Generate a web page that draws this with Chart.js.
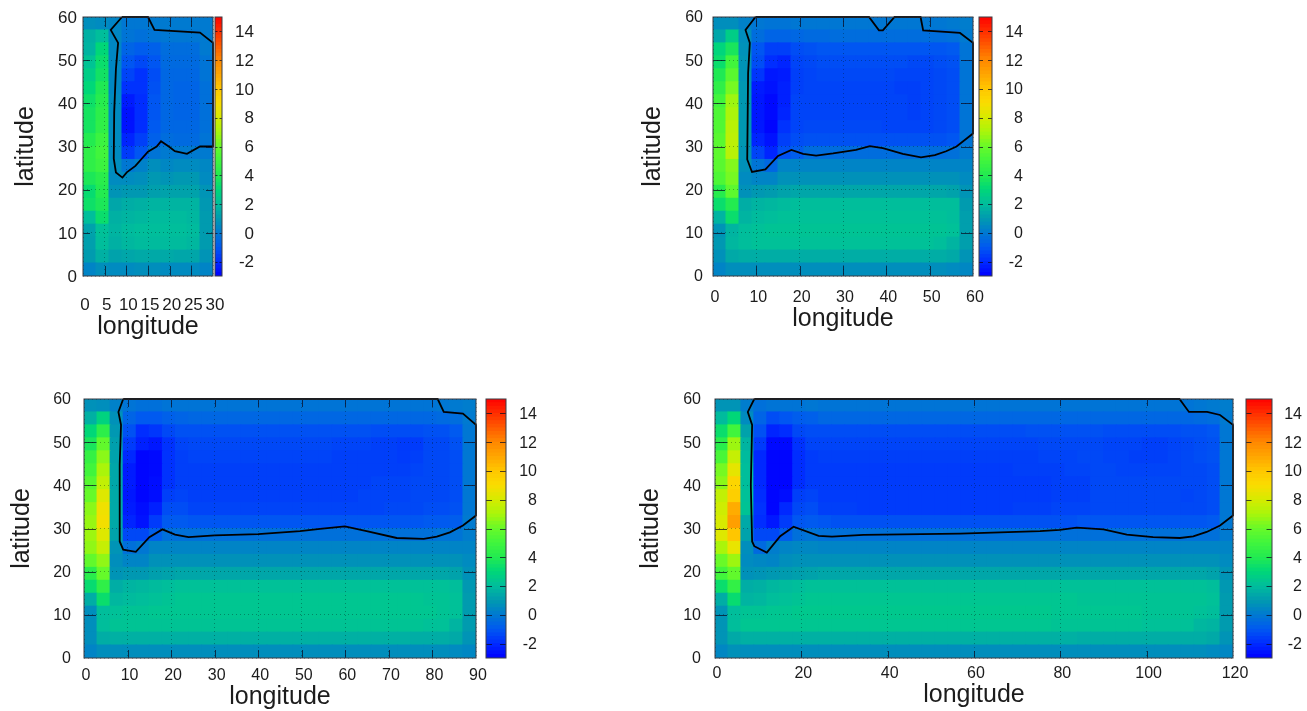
<!DOCTYPE html>
<html><head><meta charset="utf-8">
<style>html,body{margin:0;padding:0;background:#fff;width:1307px;height:711px;overflow:hidden}canvas{position:absolute;display:block;filter:blur(.4px)}</style>
<script src="https://cdn.jsdelivr.net/npm/chart.js@4"></script>
</head><body>
<script>
const latitudeTicks=[0,10,20,30,40,50,60];
const colorbarTicks=[-2,0,2,4,6,8,10,12,14];
const colorStops=[[-3,0,0,255],[-2,0,45,255],[-1,0,90,240],[0,0,122,208],[1,0,155,175],[2,0,190,155],[3,0,215,120],[4,35,235,80],[5,65,245,60],[6,105,250,40],[7,170,245,10],[8,215,235,0],[9,250,220,0],[10,255,198,0],[11,255,165,0],[12,255,135,0],[13,255,90,0],[14,255,45,0],[15,255,0,0]];
const lon30Ticks=[0,5,10,15,20,25,30];
const lon60Ticks=[0,10,20,30,40,50,60];
const lon90Ticks=[0,10,20,30,40,50,60,70,80,90];
const lon120Ticks=[0,20,40,60,80,100,120];

const values30=[
[.6,.5,.3,-.1,-.1,0,0,0,0,0],
[1.6,2,.4,-.2,-.3,-.2,-.1,-.1,-.1,0],
[1.7,3,.4,-.7,-.9,-.8,-.4,-.4,-.4,0],
[2.2,3.3,.4,-1.1,-1.4,-1.1,-.5,-.5,-.5,-.2],
[2.6,3.5,.4,-1.5,-1.9,-1.3,-.6,-.6,-.6,-.2],
[3,3.9,.4,-1.9,-1.9,-1.2,-.6,-.7,-.7,-.3],
[3.4,4.1,.5,-2.4,-2,-1.1,-.6,-.7,-.7,-.3],
[3.6,4.3,.5,-2.6,-2,-1.1,-.6,-.7,-.7,-.3],
[3.6,4.4,.5,-2.6,-2,-1,-.6,-.6,-.6,-.3],
[4,4.8,.5,-2.2,-1.6,-.8,-.4,-.5,-.5,-.2],
[4.4,5,.5,-1.7,-1.1,-.2,0,0,0,0],
[4.4,4.8,.6,-.1,.2,.6,.4,.5,.5,.4],
[3.8,4.2,.5,.5,.6,.9,.8,.9,.9,.5],
[3.2,4,.8,.9,.9,1.1,1.2,1.2,1.2,.8],
[3.4,3.8,1.3,1.5,1.6,1.7,1.7,1.7,1.7,.9],
[2,3.3,1.6,1.7,1.8,1.9,1.9,1.9,1.8,1],
[1.2,2.1,1.7,1.9,2,2,2,2,1.9,1],
[1.1,2,1.6,1.8,1.9,1.9,1.9,1.9,1.8,1],
[1,1.6,1.2,1.3,1.4,1.4,1.4,1.3,1.3,.8],
[.3,.6,.5,.5,.6,.6,.5,.5,.5,.3]];

const values60=[
[.6,.6,.2,-.1,-.2,-.2,-.1,-.1,-.1,-.1,-.1,-.1,-.1,-.1,-.1,-.1,-.1,-.1,0,.1],
[1.3,2.6,.6,-.4,-.7,-.7,-.6,-.5,-.5,-.4,-.4,-.4,-.4,-.4,-.4,-.4,-.4,-.4,-.3,0],
[2.9,3.7,.7,-1.1,-1.6,-1.6,-1.3,-1.2,-1.1,-1.1,-1.1,-1.1,-1.1,-1.1,-1.1,-1.1,-1.1,-1.1,-1,-.2],
[3.3,5,.8,-1.3,-2,-2.2,-1.5,-1.4,-1.3,-1.3,-1.3,-1.3,-1.3,-1.3,-1.3,-1.4,-1.4,-1.3,-1.2,-.2],
[3.9,5.6,.8,-1.8,-2.5,-2.4,-1.6,-1.5,-1.4,-1.4,-1.4,-1.4,-1.4,-1.4,-1.5,-1.5,-1.5,-1.4,-1.3,-.2],
[4.4,6.2,.9,-2.4,-2.6,-2.3,-1.6,-1.5,-1.5,-1.5,-1.5,-1.5,-1.5,-1.5,-1.6,-1.6,-1.5,-1.4,-1.3,-.2],
[5,6.8,.9,-2.5,-2.8,-2.3,-1.5,-1.5,-1.5,-1.5,-1.5,-1.5,-1.5,-1.5,-1.5,-1.6,-1.5,-1.4,-1.3,-.2],
[5.3,7,.9,-2.5,-2.8,-2.2,-1.5,-1.5,-1.5,-1.5,-1.5,-1.5,-1.5,-1.5,-1.5,-1.6,-1.5,-1.4,-1.3,-.2],
[5.4,7.3,.9,-2.5,-2.9,-1.9,-1.5,-1.4,-1.4,-1.4,-1.4,-1.4,-1.4,-1.5,-1.5,-1.5,-1.5,-1.4,-1.3,-.2],
[5.6,7.4,.9,-2.2,-2.6,-1.6,-1.3,-1.2,-1.2,-1.2,-1.2,-1.2,-1.2,-1.2,-1.2,-1.2,-1.2,-1.2,-1.1,-.2],
[5.7,7.3,.8,-1.5,-2.2,-1.2,-.9,-.4,-.4,-.4,-.4,-.4,-.4,-.4,-.4,-.4,-.4,-.4,-.3,0],
[5.6,6.4,.7,-.2,-.6,.3,.3,.3,.3,.3,.3,.3,.3,.3,.3,.3,.3,.3,.3,.3],
[5.3,6.2,.5,.3,.3,.7,.7,.7,.7,.7,.7,.7,.7,.7,.7,.7,.7,.7,.7,.5],
[4.1,5.7,.7,.9,1,1.2,1.3,1.3,1.3,1.3,1.3,1.3,1.3,1.3,1.3,1.3,1.3,1.3,1.2,.8],
[3.3,4,1.5,1.7,1.8,1.9,2,2,2,2,2,2,2,2,2,2,2,2,2,1],
[1.7,3.3,1.7,1.9,2,2.1,2.1,2.1,2.1,2.1,2.1,2.1,2.1,2.1,2.1,2.1,2.1,2.1,2,1.1],
[.8,1.7,2,2.1,2.2,2.2,2.2,2.2,2.2,2.2,2.2,2.2,2.2,2.2,2.2,2.2,2.2,2.2,2.1,1.1],
[.9,1.8,2,2.1,2.1,2.1,2.1,2.1,2.1,2.1,2.1,2.1,2.1,2.1,2.1,2.1,2.1,2,1.7,1.1],
[.7,1.4,1.5,1.5,1.5,1.5,1.5,1.5,1.5,1.5,1.5,1.5,1.5,1.5,1.5,1.5,1.5,1.5,1.4,.8],
[.3,.6,.6,.6,.6,.6,.6,.6,.6,.6,.6,.6,.6,.6,.6,.6,.6,.6,.5,.4]];

const values90=[
[.7,.6,.2,-.2,-.3,-.3,-.2,-.2,-.2,-.2,-.2,-.2,-.2,-.2,-.2,-.2,-.2,-.2,-.2,-.2,-.2,-.2,-.2,-.2,-.2,-.2,-.2,-.1,0,.1],
[1.6,2.8,.7,-.7,-1,-1,-.8,-.7,-.6,-.6,-.6,-.6,-.6,-.6,-.6,-.6,-.6,-.6,-.6,-.6,-.6,-.6,-.6,-.6,-.6,-.6,-.6,-.5,-.4,0],
[3,4.3,.9,-1.2,-2,-1.8,-1.4,-1.2,-1.2,-1.2,-1.2,-1.2,-1.2,-1.2,-1.2,-1.2,-1.2,-1.2,-1.2,-1.2,-1.2,-1.2,-1.3,-1.3,-1.3,-1.3,-1.2,-1.2,-1,-.1],
[3.7,5.8,1.1,-1.7,-2.3,-2.5,-1.9,-1.5,-1.4,-1.4,-1.4,-1.4,-1.4,-1.4,-1.4,-1.4,-1.4,-1.4,-1.4,-1.5,-1.5,-1.5,-1.6,-1.6,-1.7,-1.7,-1.4,-1.4,-1.2,-.1],
[4.6,6.5,1.2,-2.1,-2.9,-2.8,-1.9,-1.6,-1.5,-1.5,-1.5,-1.5,-1.5,-1.5,-1.5,-1.5,-1.5,-1.5,-1.5,-1.6,-1.6,-1.6,-1.6,-1.6,-1.7,-1.6,-1.4,-1.4,-1.3,-.1],
[5,7,1.3,-2.4,-2.9,-2.8,-1.9,-1.6,-1.6,-1.6,-1.6,-1.6,-1.6,-1.6,-1.6,-1.6,-1.6,-1.6,-1.6,-1.6,-1.6,-1.6,-1.6,-1.6,-1.6,-1.5,-1.4,-1.4,-1.3,-.1],
[5.5,7.5,1.3,-2.4,-2.9,-2.7,-1.9,-1.6,-1.6,-1.6,-1.6,-1.6,-1.6,-1.6,-1.6,-1.6,-1.6,-1.6,-1.6,-1.6,-1.6,-1.6,-1.5,-1.5,-1.5,-1.4,-1.4,-1.4,-1.3,-.1],
[5.9,8.2,1.4,-2.5,-2.9,-2.7,-1.6,-1.5,-1.6,-1.6,-1.6,-1.6,-1.6,-1.6,-1.6,-1.6,-1.6,-1.6,-1.6,-1.6,-1.6,-1.5,-1.5,-1.5,-1.5,-1.4,-1.4,-1.4,-1.3,-.1],
[6.5,8.7,1.4,-2.4,-2.7,-2.3,-1.3,-1.3,-1.5,-1.5,-1.5,-1.5,-1.5,-1.5,-1.5,-1.5,-1.5,-1.5,-1.5,-1.5,-1.5,-1.5,-1.5,-1.4,-1.4,-1.4,-1.3,-1.3,-1.2,-.1],
[6.7,8.8,1.4,-2.2,-2.6,-1.7,-1,-1,-1.1,-1.1,-1.1,-1.1,-1.1,-1.1,-1.1,-1.1,-1.1,-1.1,-1.1,-1.1,-1.1,-1.1,-1.1,-1.1,-1.1,-1.1,-1,-1,-.9,0],
[6.8,8.2,1.2,-1.4,-1.4,-.8,-.3,-.3,-.3,-.3,-.3,-.3,-.3,-.3,-.3,-.3,-.3,-.3,-.3,-.3,-.3,-.3,-.3,-.3,-.3,-.3,-.3,-.2,-.2,.1],
[6.6,7.6,.8,-.3,-.1,.3,.3,.3,.3,.3,.3,.3,.3,.3,.3,.3,.3,.3,.3,.3,.3,.3,.3,.3,.3,.3,.3,.3,.3,.3],
[5.8,6.6,.6,.3,.3,.7,.7,.7,.7,.7,.7,.7,.7,.7,.7,.7,.7,.7,.7,.7,.7,.7,.7,.7,.7,.7,.7,.7,.7,.5],
[4.2,5.9,.8,.9,.9,1.1,1.2,1.3,1.3,1.3,1.3,1.3,1.3,1.3,1.3,1.3,1.3,1.3,1.3,1.3,1.3,1.3,1.3,1.3,1.3,1.3,1.3,1.3,1.2,.7],
[3.2,4.4,1.5,1.7,1.8,1.9,2,2.1,2.1,2.1,2.1,2.1,2.1,2.1,2.1,2.1,2.1,2.1,2.1,2.1,2.1,2.1,2.1,2.1,2.1,2.1,2.1,2.1,2,.9],
[1.5,3.3,1.8,1.9,2,2.1,2.2,2.3,2.3,2.3,2.3,2.3,2.3,2.3,2.3,2.3,2.3,2.3,2.3,2.3,2.3,2.3,2.3,2.3,2.3,2.3,2.2,2.2,2.1,1],
[.6,2,2.1,2.2,2.2,2.3,2.3,2.3,2.3,2.3,2.3,2.3,2.3,2.3,2.3,2.3,2.3,2.3,2.3,2.3,2.3,2.3,2.3,2.3,2.3,2.3,2.3,2.2,2.1,1],
[.6,2,2.2,2.2,2.2,2.2,2.2,2.2,2.2,2.2,2.2,2.2,2.2,2.2,2.2,2.2,2.2,2.2,2.2,2.2,2.2,2.2,2.2,2.2,2.2,2.2,2.1,2.1,1.7,1],
[.6,1.5,1.6,1.6,1.6,1.6,1.6,1.6,1.6,1.6,1.6,1.6,1.6,1.6,1.6,1.6,1.6,1.6,1.6,1.6,1.6,1.6,1.6,1.6,1.6,1.5,1.5,1.5,1.4,.8],
[.3,.6,.6,.6,.6,.6,.6,.6,.6,.6,.6,.6,.6,.6,.6,.6,.6,.6,.6,.6,.6,.6,.6,.6,.6,.6,.6,.6,.5,.4]];

const values120=[
[.8,.8,.1,-.3,-.2,-.2,-.2,-.1,-.2,-.2,-.2,-.2,-.2,-.2,-.2,-.2,-.2,-.2,-.2,-.2,-.2,-.2,-.2,-.2,-.2,-.2,-.2,-.2,-.2,-.2,-.2,-.2,-.2,-.2,-.2,-.2,-.2,-.1,0,.1],
[1.9,3,.5,-.7,-1.3,-1.1,-.9,-.8,-.6,-.6,-.6,-.6,-.6,-.6,-.6,-.6,-.6,-.6,-.6,-.6,-.6,-.6,-.6,-.6,-.6,-.6,-.6,-.6,-.6,-.6,-.6,-.6,-.6,-.6,-.6,-.6,-.6,-.5,-.4,0],
[3.3,5,1.2,-1.2,-2.2,-2,-1.4,-1.3,-1.3,-1.3,-1.3,-1.3,-1.3,-1.3,-1.3,-1.3,-1.3,-1.3,-1.3,-1.3,-1.3,-1.3,-1.3,-1.3,-1.2,-1.2,-1.2,-1.2,-1.2,-1.2,-1.3,-1.3,-1.3,-1.3,-1.3,-1.3,-1.2,-1.2,-1.1,-.1],
[4.2,6.8,1.7,-1.7,-2.8,-2.8,-1.9,-1.5,-1.5,-1.5,-1.5,-1.5,-1.5,-1.5,-1.5,-1.5,-1.5,-1.5,-1.5,-1.5,-1.5,-1.5,-1.5,-1.5,-1.5,-1.4,-1.4,-1.4,-1.4,-1.4,-1.5,-1.5,-1.5,-1.6,-1.6,-1.5,-1.4,-1.3,-1.2,-.1],
[5.2,7.6,1.9,-2.1,-2.9,-2.9,-2,-1.7,-1.6,-1.6,-1.6,-1.6,-1.6,-1.6,-1.6,-1.6,-1.6,-1.6,-1.6,-1.6,-1.6,-1.6,-1.6,-1.6,-1.6,-1.5,-1.5,-1.5,-1.4,-1.4,-1.5,-1.5,-1.6,-1.6,-1.6,-1.5,-1.4,-1.3,-1.2,-.1],
[6.2,8.4,2,-2.1,-2.9,-2.9,-2,-1.7,-1.7,-1.7,-1.7,-1.7,-1.7,-1.7,-1.7,-1.7,-1.7,-1.7,-1.7,-1.7,-1.7,-1.7,-1.7,-1.6,-1.6,-1.6,-1.6,-1.5,-1.5,-1.4,-1.4,-1.5,-1.5,-1.5,-1.5,-1.5,-1.4,-1.4,-1.3,-.1],
[6.5,9.3,2,-2.1,-2.9,-2.9,-2,-1.7,-1.7,-1.7,-1.7,-1.7,-1.7,-1.7,-1.7,-1.7,-1.7,-1.7,-1.7,-1.7,-1.7,-1.7,-1.7,-1.7,-1.7,-1.7,-1.6,-1.6,-1.6,-1.4,-1.4,-1.4,-1.4,-1.4,-1.4,-1.4,-1.4,-1.4,-1.3,-.1],
[7.5,9.6,2.1,-2,-2.9,-2.7,-1.6,-1.5,-1.7,-1.7,-1.7,-1.7,-1.7,-1.7,-1.7,-1.7,-1.7,-1.7,-1.7,-1.7,-1.7,-1.7,-1.7,-1.7,-1.7,-1.7,-1.6,-1.6,-1.6,-1.4,-1.4,-1.4,-1.4,-1.4,-1.4,-1.4,-1.5,-1.4,-1.3,-.1],
[7.8,10.8,2.2,-1.9,-2.9,-2.1,-1.4,-1.3,-1.6,-1.6,-1.6,-1.7,-1.7,-1.7,-1.7,-1.7,-1.7,-1.7,-1.7,-1.7,-1.7,-1.7,-1.7,-1.6,-1.6,-1.6,-1.5,-1.5,-1.5,-1.4,-1.4,-1.4,-1.4,-1.4,-1.4,-1.4,-1.4,-1.4,-1.3,-.1],
[8,11.2,1.4,-2,-2.5,-1.7,-1.1,-1,-1.1,-1.2,-1.2,-1.2,-1.2,-1.2,-1.2,-1.2,-1.2,-1.2,-1.2,-1.2,-1.2,-1.2,-1.2,-1.2,-1.2,-1.2,-1.2,-1.2,-1.1,-1.1,-1.1,-1.1,-1.1,-1.1,-1.1,-1.1,-1.1,-1.1,-1,-.1],
[8.2,10,1.2,-1.4,-1.4,-.9,-.3,-.2,-.3,-.3,-.3,-.3,-.3,-.3,-.3,-.3,-.3,-.3,-.3,-.3,-.3,-.3,-.3,-.3,-.3,-.3,-.3,-.3,-.3,-.3,-.3,-.3,-.3,-.3,-.3,-.3,-.3,-.3,-.3,0],
[7,8.5,.6,-.5,.1,.3,.4,.4,.3,.3,.3,.3,.3,.3,.3,.3,.3,.3,.3,.3,.3,.3,.3,.3,.3,.3,.3,.3,.3,.3,.3,.3,.3,.3,.3,.3,.3,.3,.3,.3],
[6,6.8,.5,.4,.3,.6,.7,.7,.7,.7,.7,.7,.7,.7,.7,.7,.7,.7,.7,.7,.7,.7,.7,.7,.7,.7,.7,.7,.7,.7,.7,.7,.7,.7,.7,.7,.7,.7,.7,.5],
[5,5.8,.7,.8,.9,1,1.1,1.2,1.3,1.3,1.3,1.3,1.3,1.3,1.3,1.3,1.3,1.3,1.3,1.3,1.3,1.3,1.3,1.3,1.3,1.3,1.3,1.3,1.3,1.3,1.3,1.3,1.3,1.3,1.3,1.3,1.3,1.3,1.2,.8],
[3.3,4.5,1.5,1.6,1.8,1.9,2,2.1,2.1,2.1,2.1,2.1,2.1,2.1,2.1,2.1,2.1,2.1,2.1,2.1,2.1,2.1,2.1,2.1,2.1,2.1,2.1,2.1,2.1,2.1,2.1,2.1,2.1,2.1,2.1,2.1,2.1,2.1,2,.9],
[1.5,3.2,1.7,1.8,2,2.1,2.2,2.3,2.3,2.3,2.3,2.3,2.3,2.3,2.3,2.3,2.3,2.3,2.3,2.3,2.3,2.3,2.3,2.3,2.3,2.3,2.3,2.3,2.2,2.2,2.2,2.2,2.2,2.2,2.2,2.2,2.2,2.2,2.1,1],
[.8,2,2.2,2.2,2.3,2.3,2.4,2.4,2.4,2.4,2.4,2.4,2.4,2.4,2.4,2.4,2.4,2.4,2.4,2.4,2.4,2.4,2.4,2.4,2.4,2.4,2.3,2.3,2.3,2.3,2.3,2.3,2.3,2.2,2.2,2.2,2.2,2.1,2,1],
[.8,2,2.3,2.3,2.3,2.3,2.3,2.3,2.3,2.3,2.3,2.3,2.3,2.3,2.3,2.3,2.3,2.3,2.3,2.3,2.3,2.3,2.3,2.3,2.3,2.3,2.2,2.2,2.2,2.2,2.2,2.2,2.2,2.1,2.1,2.1,2.1,1.8,1.7,1],
[.8,1.4,1.6,1.6,1.6,1.6,1.6,1.6,1.6,1.6,1.6,1.6,1.6,1.6,1.6,1.6,1.6,1.6,1.6,1.6,1.6,1.6,1.6,1.6,1.6,1.6,1.6,1.6,1.5,1.5,1.5,1.5,1.5,1.5,1.5,1.5,1.5,1.5,1.4,.8],
[.4,.7,.6,.6,.6,.6,.6,.6,.6,.6,.6,.6,.6,.6,.6,.6,.6,.6,.6,.6,.6,.6,.6,.6,.6,.6,.6,.6,.6,.6,.6,.6,.6,.6,.6,.6,.6,.6,.5,.4]];

const contour30=[[9,60],[6.4,57],[8.1,54],[7.6,48],[7.2,38],[7.1,27.2],[7.6,24],[9.1,22.8],[10.1,24],[12.1,25.5],[15,28.8],[17,30],[18,31.2],[19.8,30],[21.2,28.9],[24,28.3],[27,30],[30,30],[30,54],[27,56.4],[16.5,57],[15,60],[9,60]];
const contour60=[[9.8,60],[7.5,57],[8.5,54],[8.1,47],[7.9,27],[9,24.1],[12.1,24.7],[15,27.8],[18.1,29.2],[20.8,28.3],[23.8,27.9],[27.7,28.4],[33,29.2],[36.2,30.1],[39.2,29.6],[43.8,28.3],[48,27.5],[51.2,28],[53.8,28.9],[56.2,30],[60,33],[60,54],[57,56.3],[48.5,56.9],[47.9,60],[41.9,60],[39.2,56.9],[38.3,56.9],[36,60],[9.8,60]];
const contour90=[[9,60],[7.9,57],[8.5,54],[8.2,44.8],[8.2,27],[9,25.1],[11.9,24.6],[15,28],[18,29.8],[20.9,28.6],[24,28],[30,28.4],[40,28.7],[49.6,29.4],[54.2,29.9],[59.9,30.5],[64.9,29.4],[71.8,27.8],[78,27.6],[81,28.1],[84,29.1],[87,30.7],[90,33],[90,54],[87,56.6],[82.6,57],[81.2,60],[9,60]];
const contour120=[[9.1,60],[7.6,57],[8.6,54],[8.3,40],[8.6,27],[9.1,25.9],[12,24.4],[15.1,28.2],[18.2,30.4],[24,28.3],[27.1,28.1],[34.4,28.5],[56.8,28.8],[75.3,29.4],[79.9,29.7],[83.8,30.2],[90,29.8],[95.4,28.6],[101.5,28],[107.7,27.8],[110.8,28.2],[113.9,29.2],[117,30.7],[120,33],[120,54],[117,56.3],[114,57],[109.8,57],[107.6,60],[9.1,60]];

const FONT='"Liberation Sans", Arial, sans-serif', INK='#1c1c1c', TICKINK='rgba(10,10,30,.72)', GRIDINK='rgba(0,20,20,.35)';
function colorFor(v){
  for(let i=1;i<colorStops.length;i++){
    const a=colorStops[i-1],b=colorStops[i];
    if(v<=b[0]){const t=Math.max(0,(v-a[0])/(b[0]-a[0]));
      return `rgb(${Math.round(a[1]+t*(b[1]-a[1]))},${Math.round(a[2]+t*(b[2]-a[2]))},${Math.round(a[3]+t*(b[3]-a[3]))})`;}
  }
  return 'rgb(255,0,0)';
}
function addCanvas(l,t,w,h){
  const c=document.createElement('canvas');
  c.width=w;c.height=h;c.style.cssText=`left:${l}px;top:${t}px;width:${w}px;height:${h}px`;
  document.body.appendChild(c);return c.getContext('2d');
}
function noOverhang(s){s.paddingLeft=s.paddingRight=s.paddingTop=s.paddingBottom=0;}
const frameAndTicks={id:'frameAndTicks',afterDraw(chart,args,o){
  const ctx=chart.ctx,a=chart.chartArea,s=chart.scales;
  ctx.save();ctx.lineWidth=1;ctx.strokeStyle=TICKINK;ctx.beginPath();
  if(s.x&&o.xLen)s.x.ticks.forEach(t=>{const p=Math.round(s.x.getPixelForValue(t.value))+.5;
    if(p>a.left+1&&p<a.right-1){ctx.moveTo(p,a.bottom);ctx.lineTo(p,a.bottom-o.xLen);ctx.moveTo(p,a.top);ctx.lineTo(p,a.top+o.xLen);}});
  s.y.ticks.forEach(t=>{const p=Math.round(s.y.getPixelForValue(t.value))+.5;
    if(p>a.top+1&&p<a.bottom-1){ctx.moveTo(a.left,p);ctx.lineTo(a.left+o.yLen,p);ctx.moveTo(a.right,p);ctx.lineTo(a.right-o.yLen,p);}});
  ctx.stroke();
  ctx.strokeStyle='#3a3d44';ctx.strokeRect(a.left,a.top,a.right-a.left,a.bottom-a.top);
  ctx.restore();
}};

const layout=[
 {values:values30,contour:contour30,ticks:lon30Ticks,max:30,L:83,T:17,R:213,B:276,cbL:215,cbR:222,yPad:6,xPad:19,xLen:10,yLen:7,cbLen:2.5,cbExtra:32,yTitle:26.5,xTitle:327,font:17},
 {values:values60,contour:contour60,ticks:lon60Ticks,max:60,L:713,T:17,R:973,B:276,cbL:979,cbR:992,yPad:10,xPad:12,xLen:10,yLen:12,cbLen:4,cbExtra:31,yTitle:653.5,xTitle:319,font:16},
 {values:values90,contour:contour90,ticks:lon90Ticks,max:90,L:84,T:399,R:476,B:658,cbL:486,cbR:506,yPad:13,xPad:8,xLen:8,yLen:12,cbLen:6,cbExtra:31,yTitle:22.5,xTitle:697,font:16},
 {values:values120,contour:contour120,ticks:lon120Ticks,max:120,L:715,T:399,R:1233,B:658,cbL:1246,cbR:1272,yPad:14,xPad:6,xLen:7,yLen:12,cbLen:5.5,cbExtra:30,yTitle:651.5,xTitle:695,font:16}
];

layout.forEach(p=>{
  const mL=80,mB=Math.min(70,711-p.B),mT=12,mR=18;
  const cl=p.L-mL,ct=p.T-mT,cw=mL+(p.R-p.L)+mR,ch=mT+(p.B-p.T)+mB;
  const cells=[],fills=[];
  p.values.forEach((row,r)=>row.forEach((v,c)=>{
    cells.push({x:(c+.5)*3,y:[60-3*(r+1),60-3*r]});fills.push(colorFor(v));
  }));
  new Chart(addCanvas(cl,ct,cw,ch),{
    type:'bar',
    data:{datasets:[
      {type:'line',data:p.contour.map(q=>({x:q[0],y:q[1]})),borderColor:'#000',borderWidth:1.8,pointRadius:0,tension:0,fill:false,clip:false,order:0},
      {type:'bar',data:cells,backgroundColor:fills,borderWidth:0,barPercentage:1,categoryPercentage:1,grouped:false,inflateAmount:.5,order:1}
    ]},
    options:{
      responsive:false,animation:false,events:[],
      layout:{padding:{left:0,top:mT,right:mR,bottom:0}},
      plugins:{legend:{display:false},tooltip:{enabled:false},frameAndTicks:{xLen:p.xLen,yLen:p.yLen}},
      scales:{
        x:{type:'linear',min:0,max:p.max,offset:false,afterFit:s=>{s.height=mB;noOverhang(s);},
          afterBuildTicks:s=>{s.ticks=p.ticks.map(v=>({value:v}));},
          grid:{offset:false,z:1,color:GRIDINK,lineWidth:1,drawTicks:false},border:{display:false,dash:[1,3]},
          ticks:{autoSkip:false,maxRotation:0,padding:p.xPad,labelOffset:2,color:INK,font:{family:FONT,size:p.font}},
          title:{display:true,text:'longitude',color:INK,font:{family:FONT,size:25,lineHeight:1},padding:{top:0,bottom:ct+ch-p.xTitle-12.5}}},
        y:{type:'linear',min:0,max:60,afterFit:s=>{s.width=mL;noOverhang(s);},
          afterBuildTicks:s=>{s.ticks=latitudeTicks.map(v=>({value:v}));},
          grid:{z:1,color:GRIDINK,lineWidth:1,drawTicks:false},border:{display:false,dash:[1,3]},
          ticks:{padding:p.yPad,labelOffset:1,color:INK,font:{family:FONT,size:p.font}},
          title:{display:true,text:'latitude',color:INK,font:{family:FONT,size:25,lineHeight:1},padding:{top:p.yTitle-cl-12.5,bottom:0}}}
      }
    },
    plugins:[frameAndTicks]
  });

  const levels=[];for(let v=-3;v<15;v+=.25)levels.push(v);
  const cbM=2,cbW=p.cbR-p.cbL,cbExtra=p.cbExtra;
  new Chart(addCanvas(p.cbL-cbM,p.T-mT,cbM+cbW+cbExtra,mT+(p.B-p.T)+12),{
    type:'bar',
    data:{labels:['scale'],datasets:levels.map(v=>({data:[[v,v+.25]],backgroundColor:colorFor(v+.125),borderWidth:0,barPercentage:1,categoryPercentage:1,grouped:false,inflateAmount:.4}))},
    options:{
      responsive:false,animation:false,events:[],
      layout:{padding:{left:cbM,top:mT,right:0,bottom:12}},
      plugins:{legend:{display:false},tooltip:{enabled:false},frameAndTicks:{xLen:0,yLen:p.cbLen}},
      scales:{
        x:{display:false,offset:true,grid:{display:false}},
        y:{type:'linear',position:'right',min:-3,max:15,afterFit:s=>{s.width=cbExtra;noOverhang(s);},
          afterBuildTicks:s=>{s.ticks=colorbarTicks.map(v=>({value:v}));},
          grid:{display:false,drawTicks:false},border:{display:false},
          ticks:{crossAlign:'far',padding:0,labelOffset:1,color:INK,font:{family:FONT,size:p.font}}}
      }
    },
    plugins:[frameAndTicks]
  });
});
</script>
</body></html>
